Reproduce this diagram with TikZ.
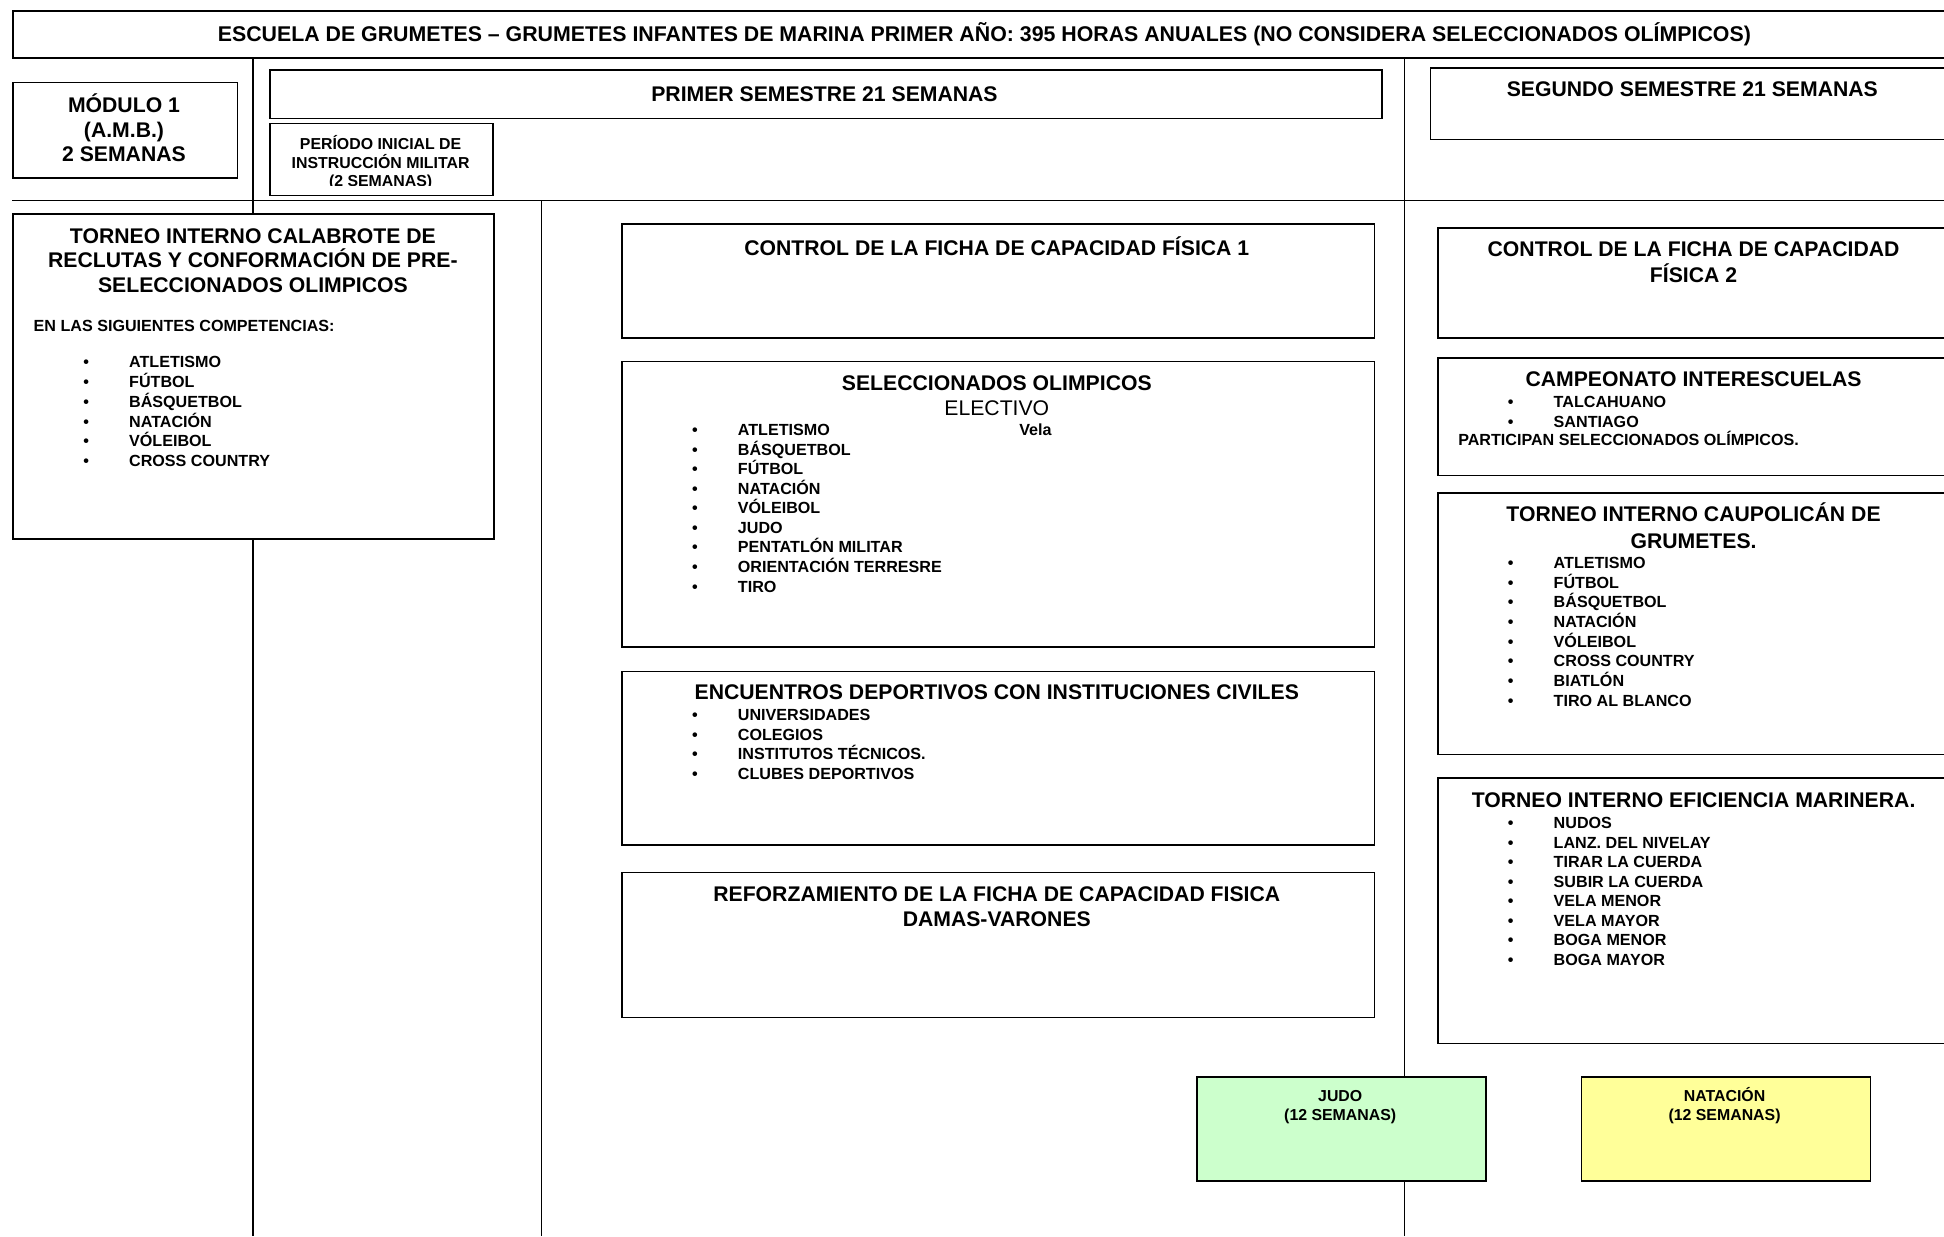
\documentclass[tikz,border=0pt]{standalone}
\usepackage{fontspec}
\setmainfont{Liberation Sans}
\usetikzlibrary{positioning}

\newcommand{\itm}[1]{\makebox[37pt][l]{\textbullet}#1}

\begin{document}
\begin{tikzpicture}[x=1pt,y=-1pt,
  box/.style={draw,line width=1.3pt,fill=white,inner sep=0pt,anchor=north west},
  rule/.style={line width=1pt},
  head/.style={font=\fontsize{17.1}{20}\selectfont\bfseries,align=center,anchor=base,inner sep=0pt},
  small/.style={font=\fontsize{13}{15.8}\selectfont\bfseries,align=left,anchor=base west,inner sep=0pt},
  tag/.style={font=\fontsize{12.8}{15}\selectfont\bfseries,align=center,anchor=base,inner sep=0pt}]
\useasboundingbox (0,0) rectangle (1568,997);

% separators
\draw[rule] (204,46) -- (204,997);
\draw[rule] (1133,46) -- (1133,997);
\draw[rule] (10,162) -- (1568,162);
\draw[rule] (437,162) -- (437,997);

% header row (multi-line texts sit on their last baseline)
\node[box,minimum width=1575,minimum height=38] (escuela) at (10,8) {};
\node[head,font=\fontsize{17.2}{20}\selectfont\bfseries] (escuela-t) at (794,33.5) {ESCUELA DE GRUMETES -- GRUMETES INFANTES DE MARINA PRIMER AÑO: 395 HORAS ANUALES (NO CONSIDERA SELECCIONADOS OLÍMPICOS)};

\node[box,minimum width=181,minimum height=77] (modulo) at (10,66) {};
\node[head] (modulo-t) at (100,130.5) {MÓDULO 1\\(A.M.B.)\\2 SEMANAS};

\node[box,minimum width=897,minimum height=39] (primer) at (217,56) {};
\node[head] (primer-t) at (665,81.5) {PRIMER SEMESTRE 21 SEMANAS};

\node[box,minimum width=180,minimum height=58] (periodo) at (217,99) {};
\begin{scope}
\clip (217,99) rectangle (397,150);
\node[tag] (periodo-t) at (307,150.8) {PERÍODO INICIAL DE\\INSTRUCCIÓN MILITAR\\(2 SEMANAS)};
\end{scope}

\node[box,minimum width=425,minimum height=58] (segundo) at (1153,54) {};
\node[head] (segundo-t) at (1365,78) {SEGUNDO SEMESTRE 21 SEMANAS};

% left column
\node[box,minimum width=388,minimum height=262] (calabrote) at (10,172) {};
\node[head] (calabrote-t) at (204,236) {TORNEO INTERNO CALABROTE DE\\RECLUTAS Y CONFORMACIÓN DE PRE-\\SELECCIONADOS OLIMPICOS};
\node[small] (calabrote-s) at (27,267.5) {EN LAS SIGUIENTES COMPETENCIAS:};
\node[small,font=\fontsize{13}{16}\selectfont\bfseries] (calabrote-l) at (67,376.5)
  {\itm{ATLETISMO}\\\itm{FÚTBOL}\\\itm{BÁSQUETBOL}\\\itm{NATACIÓN}\\\itm{VÓLEIBOL}\\\itm{CROSS COUNTRY}};

% first semester
\node[box,minimum width=607,minimum height=92] (fichaA) at (501,180) {};
\node[head] (fichaA-t) at (804,206) {CONTROL DE LA FICHA DE CAPACIDAD FÍSICA 1};

\node[box,minimum width=607,minimum height=230] (selec) at (501,291) {};
\node[head] (selec-t) at (804,335) {SELECCIONADOS OLIMPICOS\\{\mdseries ELECTIVO}};
\node[small,font=\fontsize{13}{15.75}\selectfont\bfseries] (selec-l) at (558,477.5)
  {\itm{ATLETISMO}\\\itm{BÁSQUETBOL}\\\itm{FÚTBOL}\\\itm{NATACIÓN}\\\itm{VÓLEIBOL}\\\itm{JUDO}\\\itm{PENTATLÓN MILITAR}\\\itm{ORIENTACIÓN TERRESRE}\\\itm{TIRO}};
\node[small] (vela) at (822,351.5) {Vela};

\node[box,minimum width=607,minimum height=140] (encuentros) at (501,541) {};
\node[head] (encuentros-t) at (804,564) {ENCUENTROS DEPORTIVOS CON INSTITUCIONES CIVILES};
\node[small,font=\fontsize{13}{15.7}\selectfont\bfseries] (encuentros-l) at (558,628.6)
  {\itm{UNIVERSIDADES}\\\itm{COLEGIOS}\\\itm{INSTITUTOS TÉCNICOS.}\\\itm{CLUBES DEPORTIVOS}};

\node[box,minimum width=607,minimum height=117] (refuerzo) at (501,703) {};
\node[head] (refuerzo-t) at (804,747) {REFORZAMIENTO DE LA FICHA DE CAPACIDAD FISICA\\DAMAS-VARONES};

% second semester
\node[box,minimum width=420,minimum height=89] (fichaB) at (1159,183) {};
\node[head,font=\fontsize{17.1}{21}\selectfont\bfseries] (fichaB-t) at (1366,228) {CONTROL DE LA FICHA DE CAPACIDAD\\FÍSICA 2};

\node[box,minimum width=420,minimum height=95] (campeonato) at (1159,288) {};
\node[head] (campeonato-t) at (1366,312) {CAMPEONATO INTERESCUELAS};
\node[small,font=\fontsize{13}{16}\selectfont\bfseries] (campeonato-l) at (1216,344.5)
  {\itm{TALCAHUANO}\\\itm{SANTIAGO}};
\node[small] (campeonato-s) at (1176,359.5) {PARTICIPAN SELECCIONADOS OLÍMPICOS.};

\node[box,minimum width=420,minimum height=211] (caupolican) at (1159,397) {};
\node[head,font=\fontsize{17.1}{21}\selectfont\bfseries] (caupolican-t) at (1366,442) {TORNEO INTERNO CAUPOLICÁN DE\\GRUMETES.};
\node[small,font=\fontsize{13}{15.86}\selectfont\bfseries] (caupolican-l) at (1216,569.5)
  {\itm{ATLETISMO}\\\itm{FÚTBOL}\\\itm{BÁSQUETBOL}\\\itm{NATACIÓN}\\\itm{VÓLEIBOL}\\\itm{CROSS COUNTRY}\\\itm{BIATLÓN}\\\itm{TIRO AL BLANCO}};

\node[box,minimum width=420,minimum height=214] (marinera) at (1159,627) {};
\node[head] (marinera-t) at (1366,651) {TORNEO INTERNO EFICIENCIA MARINERA.};
\node[small,font=\fontsize{13}{15.71}\selectfont\bfseries] (marinera-l) at (1216,778.5)
  {\itm{NUDOS}\\\itm{LANZ. DEL NIVELAY}\\\itm{TIRAR LA CUERDA}\\\itm{SUBIR LA CUERDA}\\\itm{VELA MENOR}\\\itm{VELA MAYOR}\\\itm{BOGA MENOR}\\\itm{BOGA MAYOR}};

% electives
\node[box,fill={rgb,255:red,204;green,255;blue,204},minimum width=233,minimum height=84] (judo) at (965,868) {};
\node[tag] (judo-t) at (1081,903.5) {JUDO\\(12 SEMANAS)};

\node[box,fill={rgb,255:red,255;green,255;blue,153},minimum width=233,minimum height=84] (natacion) at (1275,868) {};
\node[tag] (natacion-t) at (1391,903.5) {NATACIÓN\\(12 SEMANAS)};
\end{tikzpicture}
\end{document}
